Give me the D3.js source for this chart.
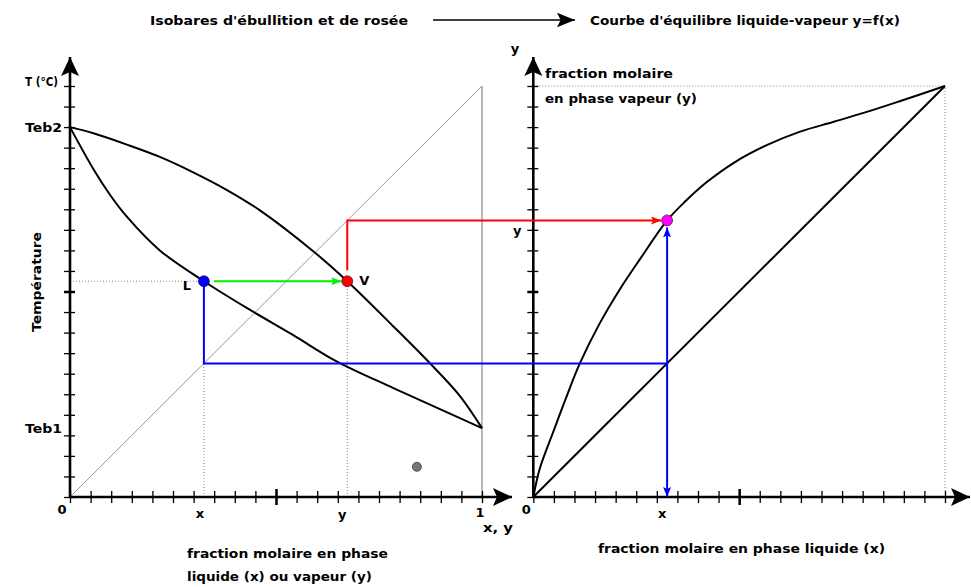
<!DOCTYPE html>
<html>
<head>
<meta charset="utf-8">
<script src="https://cdn.jsdelivr.net/npm/d3@7"></script>
<style>
  body { margin: 0; background: #fff; }
  svg { display: block; }
  text { font-family: "DejaVu Sans", sans-serif; fill: #000; font-weight: bold; }
</style>
</head>
<body>
<svg id="chart" width="971" height="587"></svg>
<script>
// Bubble-point isobar: liquid mole fraction x -> temperature (axis tick units)
const bubbleX = [0, 0.057, 0.097, 0.138, 0.218, 0.325, 0.429, 0.54, 0.647, 0.785, 0.906, 1];
const bubbleT = [18, 15.95, 14.71, 13.64, 12.0, 10.5, 9.2, 7.9, 6.6, 5.3, 4.2, 3.35];
// Dew-point isobar: vapour mole fraction y -> temperature
const dewX = [0, 0.057, 0.138, 0.218, 0.299, 0.380, 0.461, 0.591, 0.673, 0.785, 0.874, 0.947, 1];
const dewT = [18, 17.7, 17.15, 16.55, 15.8, 14.95, 13.95, 11.95, 10.5, 8.3, 6.5, 4.9, 3.35];
// Liquid-vapour equilibrium curve y = f(x)
const eqX = [0, 0.016, 0.049, 0.081, 0.113, 0.16, 0.21, 0.26, 0.325, 0.37, 0.42, 0.49, 0.567, 0.648, 0.73, 0.81, 0.89, 1];
const eqY = [0, 0.07, 0.16, 0.245, 0.325, 0.42, 0.505, 0.58, 0.673, 0.72, 0.765, 0.815, 0.856, 0.889, 0.913, 0.937, 0.963, 1];
// Boiling temperatures of the pure components
const tebLabels = ["Teb2", "Teb1"];
const tebValues = [18, 3.35];
// Working point: liquid L (x) and vapour V (y) at the same temperature
const xLiquid = 0.325;
const yVapour = 0.673;
const tLV = 10.5;
// Isolated grey dot in the lower right of the T-x,y diagram
const dotX = 0.842;
const dotT = 1.47;
// Tick values
const fracTicks = d3.range(0, 21).map(i => i / 20);
const tempTicks = d3.range(0, 21);

const svg = d3.select("#chart");

// Scales: left diagram (composition / temperature), right diagram (x / y)
const xL = d3.scaleLinear().domain([0, 1]).range([70, 482]);
const tY = d3.scaleLinear().domain([0, 20]).range([497, 86]);
const xR = d3.scaleLinear().domain([0, 1]).range([533.3, 945]);
const yR = d3.scaleLinear().domain([0, 1]).range([497, 86]);

// Arrow markers
const defs = svg.append("defs");
function marker(id, color, size) {
  defs.append("marker")
    .attr("id", id).attr("viewBox", "0 0 10 10")
    .attr("refX", 10).attr("refY", 5)
    .attr("markerWidth", size).attr("markerHeight", size)
    .attr("markerUnits", "userSpaceOnUse")
    .attr("orient", "auto-start-reverse")
    .append("path").attr("d", "M0,1 L10,5 L0,9 L2,5 Z").attr("fill", color);
}
marker("arG", "#00ee00", 10);
marker("arR", "#ff0000", 10);
marker("arB", "#0000ff", 10);
marker("arK", "#000", 18);

// ---------- header ----------
svg.append("text").attr("x", 150).attr("y", 25).attr("font-size", 12)
  .attr("textLength", 258).attr("lengthAdjust", "spacingAndGlyphs")
  .text("Isobares d'ébullition et de rosée");
svg.append("line").attr("x1", 433).attr("y1", 20).attr("x2", 575).attr("y2", 20)
  .attr("stroke", "#000").attr("stroke-width", 1.6).attr("marker-end", "url(#arK)");
svg.append("text").attr("x", 590).attr("y", 25).attr("font-size", 12)
  .attr("textLength", 310).attr("lengthAdjust", "spacingAndGlyphs")
  .text("Courbe d'équilibre liquide-vapeur y=f(x)");

const dotted = { stroke: "#888", "stroke-width": 1, "stroke-dasharray": "1,2" };
function styled(sel, st) { Object.entries(st).forEach(([k, v]) => sel.attr(k, v)); return sel; }

// ---------- left diagram: T vs x,y ----------
const left = svg.append("g");

// reference diagonal and x = 1 boundary
left.append("line").attr("x1", xL(0)).attr("y1", tY(0)).attr("x2", xL(1)).attr("y2", tY(20))
  .attr("stroke", "#999").attr("stroke-width", 1);
left.append("line").attr("x1", xL(1)).attr("y1", tY(0)).attr("x2", xL(1)).attr("y2", tY(20))
  .attr("stroke", "#888").attr("stroke-width", 1.2);

// dotted guides
styled(left.append("line").attr("x1", xL(0)).attr("y1", tY(tLV)).attr("x2", xL(xLiquid)).attr("y2", tY(tLV)), dotted);
styled(left.append("line").attr("x1", xL(xLiquid)).attr("y1", tY(0)).attr("x2", xL(xLiquid)).attr("y2", tY(tLV)), dotted);
styled(left.append("line").attr("x1", xL(yVapour)).attr("y1", tY(0)).attr("x2", xL(yVapour)).attr("y2", tY(tLV)), dotted);

// isobars
const smooth = d3.curveCatmullRom.alpha(0.5);
const lineLT = d3.line().x(d => xL(d[0])).y(d => tY(d[1])).curve(smooth);
left.append("path").datum(d3.zip(bubbleX, bubbleT)).attr("d", lineLT)
  .attr("fill", "none").attr("stroke", "#000").attr("stroke-width", 2);
left.append("path").datum(d3.zip(dewX, dewT)).attr("d", lineLT)
  .attr("fill", "none").attr("stroke", "#000").attr("stroke-width", 2);

// axes of the left diagram
const axLx = left.append("g").attr("transform", `translate(0,${tY(0)})`)
  .call(d3.axisBottom(xL).tickValues(fracTicks).tickSize(6).tickFormat(""));
const axLy = left.append("g").attr("transform", `translate(${xL(0)},0)`)
  .call(d3.axisLeft(tY).tickValues(tempTicks).tickSize(6).tickFormat(""));

// ---------- right diagram: y = f(x) ----------
const right = svg.append("g");
styled(right.append("line").attr("x1", xR(0)).attr("y1", yR(1)).attr("x2", xR(1)).attr("y2", yR(1)), dotted);
styled(right.append("line").attr("x1", xR(1)).attr("y1", yR(0)).attr("x2", xR(1)).attr("y2", yR(1)), dotted);
right.append("line").attr("x1", xR(0)).attr("y1", yR(0)).attr("x2", xR(1)).attr("y2", yR(1))
  .attr("stroke", "#000").attr("stroke-width", 2);
const lineR = d3.line().x(d => xR(d[0])).y(d => yR(d[1])).curve(smooth);
right.append("path").datum(d3.zip(eqX, eqY)).attr("d", lineR)
  .attr("fill", "none").attr("stroke", "#000").attr("stroke-width", 2);

const axRx = right.append("g").attr("transform", `translate(0,${yR(0)})`)
  .call(d3.axisBottom(xR).tickValues(fracTicks).tickSize(6).tickFormat(""));
const axRy = right.append("g").attr("transform", `translate(${xR(0)},0)`)
  .call(d3.axisLeft(yR).tickValues(fracTicks).tickSize(6).tickFormat(""));

// restyle axes: ticks cross the axis line, mid ticks heavier, own axis lines with arrows
[axLx, axRx].forEach(g => {
  g.select(".domain").remove();
  g.selectAll(".tick line").attr("y1", -6).attr("y2", 6).attr("stroke", "#000").attr("stroke-width", 1.3)
    .filter(d => Math.abs(d - 0.5) < 1e-9).attr("y1", -8).attr("y2", 8).attr("stroke-width", 2.5);
});
[axLy, axRy].forEach((g, i) => {
  g.select(".domain").remove();
  g.selectAll(".tick line").attr("x1", -6).attr("x2", 5).attr("stroke", "#000").attr("stroke-width", 1.3)
    .filter(d => Math.abs(d - (i === 0 ? 10 : 0.5)) < 1e-9).attr("stroke-width", 2.5);
});

function axisArrow(x1, y1, x2, y2) {
  svg.append("line").attr("x1", x1).attr("y1", y1).attr("x2", x2).attr("y2", y2)
    .attr("stroke", "#000").attr("stroke-width", 2.6);
  const ang = Math.atan2(y2 - y1, x2 - x1);
  svg.append("path")
    .attr("d", "M0,0 L-19,-9 L-15,0 L-19,9 Z")
    .attr("transform", `translate(${x2},${y2}) rotate(${ang * 180 / Math.PI})`)
    .attr("fill", "#000");
}
axisArrow(xL(0), tY(0), xL(0), 57);
axisArrow(xL(0), tY(0), 512, tY(0));
axisArrow(xR(0), yR(0), xR(0), 57);
axisArrow(xR(0), yR(0), 970, yR(0));

// ---------- construction lines ----------
// green: L -> V at constant temperature
svg.append("line").attr("x1", xL(xLiquid) + 10).attr("y1", tY(tLV)).attr("x2", xL(yVapour) - 6).attr("y2", tY(tLV))
  .attr("stroke", "#00ee00").attr("stroke-width", 2).attr("marker-end", "url(#arG)");
// red: V composition carried over to the equilibrium curve
svg.append("path")
  .attr("d", d3.line()([[xL(yVapour), tY(tLV) - 11], [xL(yVapour), yR(yVapour)], [xR(xLiquid) - 6, yR(yVapour)]]))
  .attr("fill", "none").attr("stroke", "#ff0000").attr("stroke-width", 2).attr("marker-end", "url(#arR)");
// blue: L composition carried over via the diagonal
svg.append("path")
  .attr("d", d3.line()([[xL(xLiquid), tY(tLV)], [xL(xLiquid), yR(xLiquid)], [xR(xLiquid), yR(xLiquid)]]))
  .attr("fill", "none").attr("stroke", "#0000ff").attr("stroke-width", 2);
svg.append("line").attr("x1", xR(xLiquid)).attr("y1", yR(0)).attr("x2", xR(xLiquid)).attr("y2", yR(yVapour) + 7)
  .attr("stroke", "#0000ff").attr("stroke-width", 2)
  .attr("marker-start", "url(#arB)").attr("marker-end", "url(#arB)");

// ---------- points ----------
svg.append("circle").attr("cx", xL(xLiquid)).attr("cy", tY(tLV)).attr("r", 5.5).attr("fill", "#0000ff").attr("stroke", "#003").attr("stroke-width", 0.6);
svg.append("circle").attr("cx", xL(yVapour)).attr("cy", tY(tLV)).attr("r", 5.5).attr("fill", "#ff0000").attr("stroke", "#300").attr("stroke-width", 0.6);
svg.append("circle").attr("cx", xR(xLiquid)).attr("cy", yR(yVapour)).attr("r", 5.5).attr("fill", "#ff00ff").attr("stroke", "#303").attr("stroke-width", 0.6);
svg.append("circle").attr("cx", xL(dotX)).attr("cy", tY(dotT)).attr("r", 4.5).attr("fill", "#777").attr("stroke", "#333").attr("stroke-width", 0.8);

// ---------- labels ----------
function label(x, y, s, size, opts = {}) {
  const t = svg.append("text").attr("x", x).attr("y", y).attr("font-size", size).text(s);
  if (opts.anchor) t.attr("text-anchor", opts.anchor);
  if (opts.len) t.attr("textLength", opts.len).attr("lengthAdjust", "spacingAndGlyphs");
  if (opts.weight) t.attr("font-weight", opts.weight);
  return t;
}
// left diagram
label(25, 86, "T (°C)", 13, { len: 33 });
tebLabels.forEach((s, i) => label(25, tY(tebValues[i]) + 5, s, 13, { len: 37 }));
svg.append("text").attr("transform", "translate(41,282) rotate(-90)").attr("text-anchor", "middle")
  .attr("font-size", 13).attr("textLength", 100).attr("lengthAdjust", "spacingAndGlyphs").text("Température");
label(xL(0) - 8, 514, "0", 13, { anchor: "middle" });
label(xL(xLiquid) - 4, 518, "x", 13, { anchor: "middle" });
label(xL(yVapour) - 5, 519, "y", 13, { anchor: "middle" });
label(xL(1) - 2, 517, "1", 13, { anchor: "middle" });
label(483, 532, "x, y", 13, { len: 30 });
label(xL(xLiquid) - 17, tY(tLV) + 9, "L", 13, { anchor: "middle" });
label(xL(yVapour) + 17, tY(tLV) + 4, "V", 13, { anchor: "middle" });
label(187, 558, "fraction molaire en phase", 13, { len: 201 });
label(187, 581, "liquide (x) ou vapeur (y)", 13, { len: 185 });
// right diagram
label(xR(0) - 7, 514, "0", 13, { anchor: "middle" });
label(xR(xLiquid) - 5, 518, "x", 13, { anchor: "middle" });
label(515, 53, "y", 13, { anchor: "middle" });
label(xR(0) - 16, yR(yVapour) + 15, "y", 13, { anchor: "middle" });
label(545, 78, "fraction molaire", 13, { len: 128 });
label(545, 103, "en phase vapeur (y)", 13, { len: 152 });
label(598, 553, "fraction molaire en phase liquide (x)", 13, { len: 287 });
</script>
</body>
</html>
